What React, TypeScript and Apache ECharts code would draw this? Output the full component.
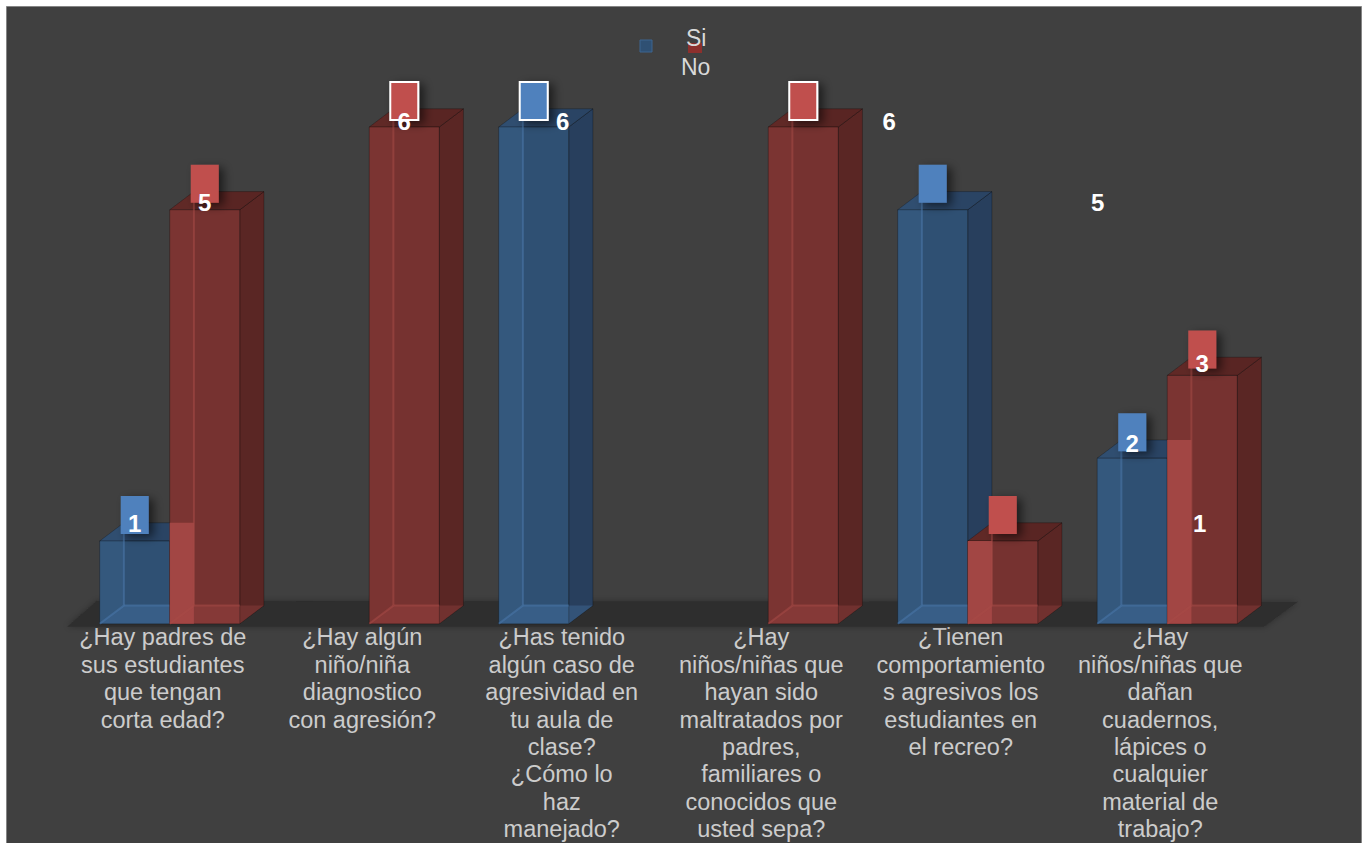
import React, { useEffect, useRef } from "react";
import * as echarts from "echarts";

const CATEGORIES = [
  "¿Hay padres de\nsus estudiantes\nque tengan\ncorta edad?",
  "¿Hay algún\nniño/niña\ndiagnostico\ncon agresión?",
  "¿Has tenido\nalgún caso de\nagresividad en\ntu aula de\nclase?\n¿Cómo lo\nhaz\nmanejado?",
  "¿Hay\nniños/niñas que\nhayan sido\nmaltratados por\npadres,\nfamiliares o\nconocidos que\nusted sepa?",
  "¿Tienen\ncomportamiento\ns agresivos los\nestudiantes en\nel recreo?",
  "¿Hay\nniños/niñas que\ndañan\ncuadernos,\nlápices o\ncualquier\nmaterial de\ntrabajo?",
];
const SERIES_NAMES = ["Si", "No"];
const SI_VALUES = [1, 0, 6, 0, 5, 2];
const NO_VALUES = [5, 6, 0, 6, 1, 3];
const Y_MIN = 0;
const Y_MAX = 6;

// layout: horizontal displacement of the value texts (as drawn in the reference)
const LABEL_SHIFT = [
  [0, 0, 29, 0, 165, 0],
  [0, 0, 0, 86, 197, 0],
];

const PAL = [
  {
    front: "#2f5073",
    side: "#283f5d",
    top: "#2a4464",
    edge: "#4b78ab",
    leftFace: "rgba(80,128,182,0.16)",
    bottom: "rgba(80,128,182,0.30)",
    label: "#4f81bd",
  },
  {
    front: "#763230",
    side: "#5a2624",
    top: "#592523",
    edge: "#a84a47",
    leftFace: "rgba(170,76,72,0.10)",
    bottom: "rgba(170,76,72,0.30)",
    label: "#c0504d",
  },
];
const BAR_RATIO = 0.351;
const FONT = '"Liberation Sans", Arial, Helvetica, sans-serif';

function geom(api: any, s: number, cat: number, v: number) {
  const base = api.coord([cat, 0]);
  const top = api.coord([cat, v]);
  const band = api.size([1, 0])[0];
  const w = band * BAR_RATIO;
  const x0 = s === 0 ? base[0] - w : base[0];
  const dx = w * 0.345;
  const dy = -w * 0.26;
  return { x0, w, dx, dy, yT: top[1], yB: base[1] };
}

function barRenderer(s: number) {
  return (params: any, api: any) => {
    const cat = api.value(0);
    const v = api.value(1);
    if (!v) return { type: "group", children: [] };
    const { x0, w, dx, dy, yT, yB } = geom(api, s, cat, v);
    const p = PAL[s];
    const children: any[] = [
      {
        type: "polygon",
        shape: { points: [[x0 + w, yT], [x0 + w + dx, yT + dy], [x0 + w + dx, yB + dy], [x0 + w, yB]] },
        style: { fill: p.side, stroke: "rgba(0,0,0,0.25)", lineWidth: 1 },
      },
      {
        type: "polygon",
        shape: { points: [[x0, yT], [x0 + dx, yT + dy], [x0 + w + dx, yT + dy], [x0 + w, yT]] },
        style: { fill: p.top, stroke: "rgba(0,0,0,0.25)", lineWidth: 1 },
      },
      {
        type: "rect",
        shape: { x: x0, y: yT, width: w, height: yB - yT },
        style: { fill: p.front, stroke: "rgba(0,0,0,0.3)", lineWidth: 1 },
      },
      {
        type: "polygon",
        shape: { points: [[x0, yT], [x0 + dx, yT + dy], [x0 + dx, yB + dy], [x0, yB]] },
        style: { fill: p.leftFace },
      },
      {
        type: "polygon",
        shape: { points: [[x0, yB], [x0 + dx, yB + dy], [x0 + w + dx, yB + dy], [x0 + w, yB]] },
        style: { fill: p.bottom },
      },
    ];
    if (s === 1) {
      const bv = SI_VALUES[cat];
      if (bv > 0) {
        const yBack = api.coord([cat, bv])[1] + dy;
        const ys = Math.max(yT, yBack);
        children.push({
          type: "rect",
          shape: { x: x0, y: ys, width: dx, height: yB - ys },
          style: { fill: "#a64846", opacity: 0.9 },
        });
      }
    }
    children.push(
      {
        type: "line",
        shape: { x1: x0 + dx, y1: yT + dy, x2: x0 + dx, y2: yB + dy },
        style: { stroke: p.edge, lineWidth: 2, opacity: 0.55 },
      },
      {
        type: "line",
        shape: { x1: x0 + dx, y1: yB + dy, x2: x0 + w, y2: yB + dy },
        style: { stroke: p.edge, lineWidth: 2, opacity: 0.55 },
      },
      {
        type: "line",
        shape: { x1: x0, y1: yB, x2: x0 + dx, y2: yB + dy },
        style: { stroke: p.edge, lineWidth: 2, opacity: 0.55 },
      }
    );
    return { type: "group", children };
  };
}

function boxRenderer(params: any, api: any) {
  const cat = api.value(0);
  const v = api.value(1);
  const s = api.value(2);
  if (!v) return { type: "group", children: [] };
  const { x0, w, yT } = geom(api, s, cat, v);
  const cx = x0 + w / 2;
  const bw = 28;
  const bh = 38;
  return {
    type: "rect",
    shape: { x: cx - bw / 2, y: yT - 7 - bh, width: bw, height: bh },
    style: {
      fill: PAL[s].label,
      stroke: v === Y_MAX ? "#ffffff" : "none",
      lineWidth: 2,
      shadowBlur: 10,
      shadowColor: "rgba(0,0,0,0.55)",
      shadowOffsetX: 5,
      shadowOffsetY: 3,
    },
  };
}

function textRenderer(params: any, api: any) {
  const cat = api.value(0);
  const v = api.value(1);
  const s = api.value(2);
  if (!v) return { type: "group", children: [] };
  const { x0, w, yT, yB } = geom(api, s, cat, v);
  const cx = x0 + w / 2 + LABEL_SHIFT[s][cat];
  const ty = yB + (yT - yB) * 0.971 - 19.5;
  return {
    type: "text",
    x: cx,
    y: ty,
    style: {
      text: String(v),
      fill: "#ffffff",
      font: `bold 24px ${FONT}`,
      align: "center",
      verticalAlign: "middle",
    },
  };
}

function floorRenderer(params: any, api: any) {
  const cs = params.coordSys;
  const yB = cs.y + cs.height;
  return {
    type: "polygon",
    shape: {
      points: [
        [cs.x - 3, yB + 3],
        [cs.x + 27, yB - 23],
        [cs.x + cs.width + 31, yB - 22],
        [cs.x + cs.width - 3, yB + 3],
      ],
    },
    style: { fill: "#2e2e2e", shadowBlur: 6, shadowColor: "rgba(0,0,0,0.3)" },
  };
}

export default function App() {
  const ref = useRef<HTMLDivElement>(null);
  useEffect(() => {
    if (!ref.current) return;
    const chart = echarts.init(ref.current, undefined, { renderer: "svg" });
    const labelData: number[][] = [];
    SI_VALUES.forEach((v, i) => labelData.push([i, v, 0]));
    NO_VALUES.forEach((v, i) => labelData.push([i, v, 1]));
    chart.setOption({
      animation: false,
      backgroundColor: "#ffffff",
      grid: { left: 70, right: 97, top: 127, bottom: 206 },
      xAxis: {
        type: "category",
        data: CATEGORIES,
        axisLine: { show: false },
        axisTick: { show: false },
        splitLine: { show: false },
        axisLabel: {
          interval: 0,
          color: "#cccccc",
          fontSize: 23.5,
          lineHeight: 27.4,
          fontFamily: FONT,
          margin: 0,
          padding: [0, 14, 0, 0],
          hideOverlap: false,
        },
      },
      yAxis: { type: "value", min: Y_MIN, max: Y_MAX, show: false, splitLine: { show: false } },
      graphic: [
        {
          type: "rect",
          z: -100,
          shape: { x: 6.5, y: 6.5, width: 1355, height: 850 },
          style: { fill: "#404040", stroke: "#858585", lineWidth: 1 },
          silent: true,
        },
        {
          type: "rect",
          z: 100,
          shape: { x: 640, y: 40, width: 12, height: 12 },
          style: { fill: "#2f5073", stroke: "#3d6490", lineWidth: 1 },
        },
        {
          type: "rect",
          z: 100,
          shape: { x: 688, y: 43, width: 14, height: 10 },
          style: { fill: "#8c302d" },
        },
        {
          type: "text",
          z: 101,
          x: 686,
          y: 38,
          style: { text: SERIES_NAMES[0], fill: "#d9d9d9", font: `23px ${FONT}`, verticalAlign: "middle" },
        },
        {
          type: "text",
          z: 101,
          x: 681,
          y: 67,
          style: { text: SERIES_NAMES[1], fill: "#d9d9d9", font: `23px ${FONT}`, verticalAlign: "middle" },
        },
      ],
      series: [
        {
          type: "custom",
          name: "floor",
          z: 1,
          silent: true,
          renderItem: floorRenderer,
          data: [[0, 0]],
        },
        {
          type: "custom",
          name: SERIES_NAMES[0],
          z: 2,
          renderItem: barRenderer(0),
          data: SI_VALUES.map((v, i) => [i, v]),
        },
        {
          type: "custom",
          name: SERIES_NAMES[1],
          z: 3,
          renderItem: barRenderer(1),
          data: NO_VALUES.map((v, i) => [i, v]),
        },
        {
          type: "custom",
          name: "boxes",
          z: 4,
          silent: true,
          renderItem: boxRenderer,
          data: labelData,
        },
        {
          type: "custom",
          name: "values",
          z: 5,
          silent: true,
          renderItem: textRenderer,
          data: labelData,
        },
      ],
    });
    return () => chart.dispose();
  }, []);
  return (
    <div
      ref={ref}
      style={{ position: "absolute", left: 0, top: 0, width: 1364, height: 843 }}
    />
  );
}
